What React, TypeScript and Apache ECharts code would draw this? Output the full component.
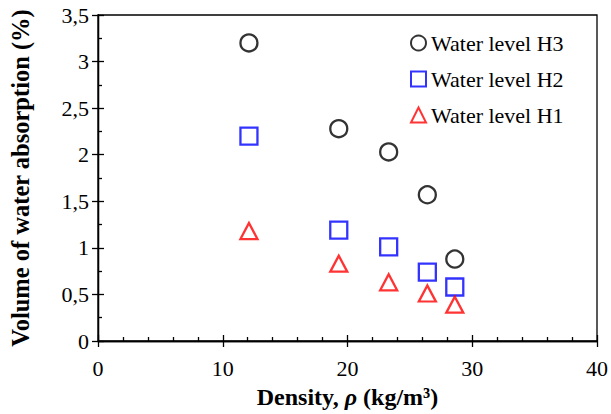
import React, { useEffect, useRef } from "react";
import * as echarts from "echarts";

const densityH3 = [12.1, 19.3, 23.3, 26.4, 28.6];
const valuesH3 = [3.2, 2.28, 2.03, 1.57, 0.88];
const densityH2 = [12.1, 19.3, 23.3, 26.4, 28.6];
const valuesH2 = [2.2, 1.19, 1.01, 0.74, 0.58];
const densityH1 = [12.1, 19.3, 23.3, 26.4, 28.6];
const valuesH1 = [1.18, 0.83, 0.63, 0.51, 0.39];

const seriesNames = ["Water level H3", "Water level H2", "Water level H1"];
const FONT = "'Liberation Serif', 'Times New Roman', serif";

function pairs(xs: number[], ys: number[]) {
  return xs.map((x, i) => [x, ys[i]]);
}

export default function App() {
  const ref = useRef<HTMLDivElement>(null);
  useEffect(() => {
    if (!ref.current) return;
    const chart = echarts.init(ref.current, null, { renderer: "svg" });
    const axisLine = { show: true, lineStyle: { color: "#000", width: 1.3 } };
    const tickLabel = { fontFamily: FONT, fontSize: 22, color: "#000" };
    chart.setOption({
      animation: false,
      backgroundColor: "#fff",
      grid: {
        left: 97,
        right: 11,
        top: 15,
        bottom: 69,
        show: true,
        borderColor: "#000",
        borderWidth: 1.3,
      },
      legend: {
        orient: "vertical",
        left: 405,
        top: 27,
        itemWidth: 15,
        itemHeight: 15,
        itemGap: 14,
        data: seriesNames,
        textStyle: { fontFamily: FONT, fontSize: 22, color: "#000" },
      },
      xAxis: [
        {
          type: "value",
          min: 0,
          max: 40,
          interval: 10,
          axisLine,
          axisTick: { show: true, inside: false, length: 6, lineStyle: { color: "#000", width: 1.3 } },
          minorTick: { show: false },
          axisLabel: { ...tickLabel, margin: 16 },
          splitLine: { show: false },
          name: "{b|Density, }{i|ρ}{b| (kg/m³)}",
          nameLocation: "middle",
          nameGap: 44,
          nameTextStyle: {
            rich: {
              b: { fontFamily: FONT, fontSize: 24, fontWeight: "bold", color: "#000" },
              i: { fontFamily: FONT, fontSize: 24, fontWeight: "bold", fontStyle: "italic", color: "#000" },
            },
          },
        },
        {
          type: "value",
          min: 0,
          max: 40,
          interval: 10,
          position: "bottom",
          axisLine,
          axisTick: { show: true, inside: true, length: 6, lineStyle: { color: "#000", width: 1.3 } },
          minorTick: { show: true, splitNumber: 5, length: 4, lineStyle: { color: "#000", width: 1.3 } },
          axisLabel: { show: false },
          splitLine: { show: false },
        },
      ],
      yAxis: [
        {
          type: "value",
          min: 0,
          max: 3.5,
          interval: 0.5,
          axisLine,
          axisTick: { show: true, inside: false, length: 6, lineStyle: { color: "#000", width: 1.3 } },
          axisLabel: {
            ...tickLabel,
            margin: 9,
            formatter: (v: number) => String(v).replace(".", ","),
          },
          splitLine: { show: false },
          name: "Volume of water absorption (%)",
          nameLocation: "middle",
          nameGap: 65,
          nameTextStyle: { fontFamily: FONT, fontSize: 24.5, fontWeight: "bold", color: "#000" },
        },
        {
          type: "value",
          min: 0,
          max: 3.5,
          interval: 0.5,
          position: "left",
          axisLine,
          axisTick: { show: true, inside: true, length: 6, lineStyle: { color: "#000", width: 1.3 } },
          minorTick: { show: true, splitNumber: 2, length: 4, lineStyle: { color: "#000", width: 1.3 } },
          axisLabel: { show: false },
          splitLine: { show: false },
        },
      ],
      series: [
        {
          name: seriesNames[0],
          type: "scatter",
          symbol: "circle",
          symbolSize: 17,
          data: pairs(densityH3, valuesH3),
          itemStyle: { color: "rgba(255,255,255,0)", borderColor: "#000", borderWidth: 2.3 },
        },
        {
          name: seriesNames[1],
          type: "scatter",
          symbol: "rect",
          symbolSize: 17,
          data: pairs(densityH2, valuesH2),
          itemStyle: { color: "rgba(255,255,255,0)", borderColor: "#0000ff", borderWidth: 2.3 },
        },
        {
          name: seriesNames[2],
          type: "scatter",
          symbol: "triangle",
          symbolSize: [17, 16],
          data: pairs(densityH1, valuesH1),
          itemStyle: { color: "rgba(255,255,255,0)", borderColor: "#ff0000", borderWidth: 2.3 },
        },
      ],
    });
    return () => chart.dispose();
  }, []);
  return (
    <div
      ref={ref}
      style={{ position: "fixed", left: 0, top: 0, width: 611, height: 414, background: "#fff" }}
    />
  );
}
